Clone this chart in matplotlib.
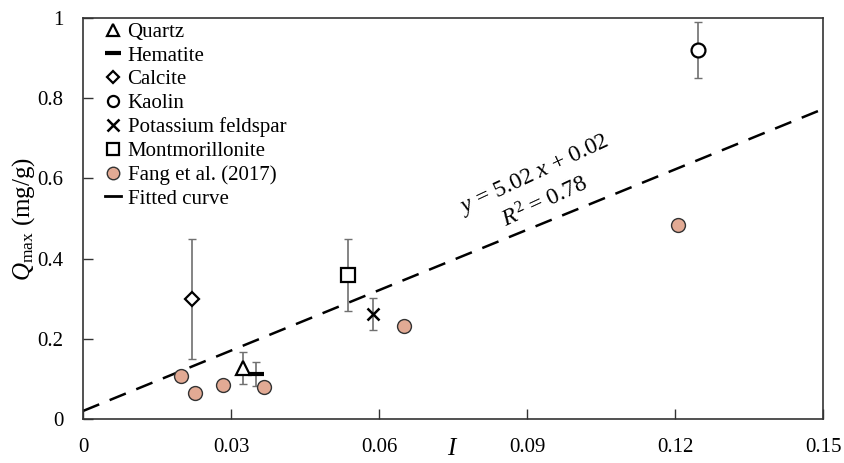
import numpy as np
import matplotlib
matplotlib.use('Agg')
import matplotlib.pyplot as plt
from matplotlib.lines import Line2D

plt.rcParams['font.family'] = ['Liberation Serif', 'DejaVu Serif']
plt.rcParams['mathtext.fontset'] = 'custom'
plt.rcParams['mathtext.rm'] = 'Liberation Serif'
plt.rcParams['mathtext.it'] = 'Liberation Serif:italic'

# minerals: name, x, y, error
minerals = ['Quartz', 'Hematite', 'Calcite', 'Kaolin', 'Potassium feldspar', 'Montmorillonite']
mineral_x = [0.0324, 0.0350, 0.0221, 0.1247, 0.0588, 0.0537]
mineral_y = [0.127, 0.112, 0.300, 0.920, 0.262, 0.360]
mineral_err = [0.040, 0.030, 0.150, 0.070, 0.040, 0.090]
markers = ['^', '_', 'D', 'o', 'x', 's']

# Fang et al. (2017)
fang_x = [0.0199, 0.0228, 0.0283, 0.0366, 0.0651, 0.1207]
fang_y = [0.108, 0.064, 0.086, 0.081, 0.231, 0.483]

# fitted line
slope, intercept = 5.02, 0.02

xticks = [0, 0.03, 0.06, 0.09, 0.12, 0.15]
xticklabels = ['0', '0.03', '0.06', '0.09', '0.12', '0.15']
yticks = [0, 0.2, 0.4, 0.6, 0.8, 1.0]
yticklabels = ['0', '0.2', '0.4', '0.6', '0.8', '1']

fig = plt.figure(figsize=(8.44, 4.63), dpi=100)
ax = fig.add_axes([83 / 844, 44 / 463, 740 / 844, 401 / 463])

xs = np.array([0, 0.15])
ax.plot(xs, slope * xs + intercept, color='black', linestyle=(0, (7, 4.5)), linewidth=1.8, zorder=2)

for name, x, y, e, m in zip(minerals, mineral_x, mineral_y, mineral_err, markers):
    ax.errorbar(x, y, yerr=e, fmt='none', ecolor='#707070', elinewidth=1.2, capsize=3, capthick=1, zorder=3)
    if m == '_':
        ax.plot(x, y, marker=m, color='black', markersize=12, markeredgewidth=3, linestyle='none', zorder=4)
    elif m == 'x':
        ax.plot(x, y, marker=m, color='black', markersize=9, markeredgewidth=1.8, linestyle='none', zorder=4)
    else:
        size = 7 if m == 'D' else 10
        ax.plot(x, y, marker=m, markerfacecolor='white', markeredgecolor='black', markersize=size,
                markeredgewidth=1.6, linestyle='none', zorder=4)

ax.plot(fang_x, fang_y, marker='o', markerfacecolor='#E2AA94', markeredgecolor='#333333',
        markersize=10, markeredgewidth=1, linestyle='none', zorder=4)

ax.set_xlim(0, 0.15)
ax.set_ylim(0, 1)
ax.set_xticks(xticks)
ax.set_xticklabels(xticklabels)
ax.set_yticks(yticks)
ax.set_yticklabels(yticklabels)
ax.tick_params(direction='in', length=7, width=1, labelsize=15, color='#333333')
ax.tick_params(axis='x', pad=14)
ax.tick_params(axis='y', pad=14)
for s in ax.spines.values():
    s.set_color('#333333')
    s.set_linewidth(1.2)

ax.set_ylabel(r'$Q_{\rm max}$ (mg/g)', fontsize=18, labelpad=0)
ax.set_xlabel(r'$I$', fontsize=18, labelpad=-14)

ax.text(0.0916, 0.610, r'$y$ = 5.02 $x$ + 0.02', rotation=25, fontsize=17,
        ha='center', va='center', rotation_mode='anchor')
ax.text(0.0937, 0.541, r'$R^2$ = 0.78', rotation=25, fontsize=17,
        ha='center', va='center', rotation_mode='anchor')

handles = []
for name, m in zip(minerals, markers):
    if m == '_':
        handles.append(Line2D([], [], marker=m, color='black', markersize=11, markeredgewidth=3,
                              linestyle='none', label=name))
    elif m == 'x':
        handles.append(Line2D([], [], marker=m, color='black', markersize=8, markeredgewidth=1.8,
                              linestyle='none', label=name))
    else:
        size = 6 if m == 'D' else 8
        handles.append(Line2D([], [], marker=m, markerfacecolor='white', markeredgecolor='black',
                              markersize=size, markeredgewidth=1.6, linestyle='none', label=name))
handles.append(Line2D([], [], marker='o', markerfacecolor='#E2AA94', markeredgecolor='#333333',
                      markersize=9, markeredgewidth=1, linestyle='none', label='Fang et al. (2017)'))
handles.append(Line2D([], [], color='black', linewidth=2, label='Fitted curve'))

ax.legend(handles=handles, loc='upper left', frameon=False, fontsize=15, handlelength=0.8,
          handletextpad=0.3, labelspacing=0.2, borderaxespad=0.0, bbox_to_anchor=(0.018, 1.01))

fig.savefig('out.png', dpi=100)
